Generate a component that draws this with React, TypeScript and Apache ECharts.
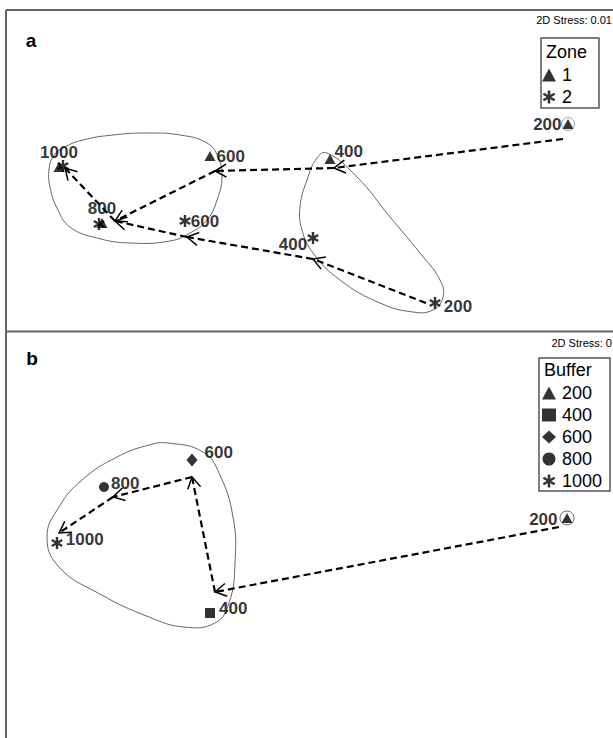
import React, { useEffect, useRef } from "react";
import * as echarts from "echarts";

// ---------- Panel a : Zone ----------
const zoneNames = ["1", "2"];
const zone1Labels = ["200", "400", "600", "800", "1000"];
const zone1X = [2.68, 0.3, -0.9, -1.98, -2.41];
const zone1Y = [0.56, 0.21, 0.24, -0.43, 0.13];
const zone2Labels = ["200", "400", "600", "", ""];
const zone2X = [1.35, 0.13, -1.15, -2.01, -2.37];
const zone2Y = [-1.23, -0.58, -0.41, -0.44, 0.14];

// trajectories (panel a)
const trajA1X = [2.63, 0.34, -0.85, -1.85, -2.35];
const trajA1Y = [0.41, 0.12, 0.09, -0.41, 0.12];
const trajA2X = [1.26, 0.13, -1.13, -1.85];
const trajA2Y = [-1.23, -0.79, -0.57, -0.41];

// cluster outlines (panel a)
const hullA1X = [-2.51, -2.47, -2.37, -2.17, -1.87, -1.53, -1.2, -0.93, -0.82, -0.78, -0.83, -0.93, -1.1, -1.3, -1.7, -2.03, -2.3, -2.43, -2.5];
const hullA1Y = [0.1, 0.23, 0.32, 0.4, 0.45, 0.47, 0.45, 0.37, 0.23, 0.03, -0.2, -0.4, -0.53, -0.61, -0.63, -0.58, -0.47, -0.28, -0.07];
const hullA2X = [0.27, 0.57, 0.9, 1.2, 1.4, 1.43, 1.33, 1.13, 0.8, 0.4, 0.13, 0.02, 0.0, 0.07, 0.17];
const hullA2Y = [0.27, 0.03, -0.37, -0.73, -1.0, -1.17, -1.3, -1.32, -1.23, -1.0, -0.73, -0.5, -0.27, 0.0, 0.22];

// ---------- Panel b : Buffer ----------
const bufferNames = ["200", "400", "600", "800", "1000"];
const bufferX = [2.67, -0.9, -1.08, -1.96, -2.43];
const bufferY = [0.22, -0.73, 0.8, 0.53, -0.03];
const trajBX = [2.59, -0.85, -1.08, -1.87, -2.41];
const trajBY = [0.13, -0.52, 0.63, 0.43, 0.07];
const hullBX = [-1.32, -0.97, -0.81, -0.67, -0.65, -0.71, -0.85, -1.16, -1.51, -2.02, -2.41, -2.53, -2.41, -2.18, -1.83, -1.51];
const hullBY = [0.97, 0.88, 0.67, 0.23, -0.23, -0.63, -0.83, -0.87, -0.77, -0.53, -0.27, 0.03, 0.33, 0.6, 0.83, 0.95];

const stressA = "2D Stress: 0.01";
const stressB = "2D Stress: 0";

const FONT = '"Liberation Sans", Arial, sans-serif';

function asteriskPath(): string {
  const parts: string[] = [];
  for (const deg of [90, 30, 150]) {
    const a = (deg * Math.PI) / 180;
    const c = Math.cos(a);
    const s = Math.sin(a);
    const L = 10;
    const W = 2;
    const pts = [
      [-L, -W],
      [L, -W],
      [L, W],
      [-L, W],
    ].map(([x, y]) => [x * c - y * s, x * s + y * c]);
    parts.push("M" + pts.map((p) => p[0].toFixed(2) + " " + p[1].toFixed(2)).join(" L") + " Z");
  }
  return "path://" + parts.join(" ");
}
const ASTER = asteriskPath();

function segments(xs: number[], ys: number[]) {
  const out: number[][] = [];
  for (let i = 0; i < xs.length - 1; i++) out.push([xs[i], ys[i], xs[i + 1], ys[i + 1]]);
  return out;
}

const arrowRender = (params: any, api: any) => {
  const p1 = api.coord([api.value(0), api.value(1)]);
  const p2 = api.coord([api.value(2), api.value(3)]);
  const ang = Math.atan2(p1[1] - p2[1], p1[0] - p2[0]);
  const L = 13;
  const h = Math.PI / 6;
  const a1 = [p2[0] + L * Math.cos(ang + h), p2[1] + L * Math.sin(ang + h)];
  const a2 = [p2[0] + L * Math.cos(ang - h), p2[1] + L * Math.sin(ang - h)];
  return {
    type: "group",
    children: [
      {
        type: "line",
        shape: { x1: p1[0], y1: p1[1], x2: p2[0], y2: p2[1] },
        style: { stroke: "#000", lineWidth: 2.2, lineDash: [7, 4], fill: "none" },
      },
      {
        type: "polyline",
        shape: { points: [a1, p2, a2] },
        style: { stroke: "#000", lineWidth: 1.5, fill: "none" },
      },
    ],
  };
};

function hullRender(hulls: { x: number[]; y: number[] }[]) {
  return (params: any, api: any) => {
    const h = hulls[params.dataIndex];
    const pts = h.x.map((x, i) => api.coord([x, h.y[i]]));
    return {
      type: "polygon",
      shape: { points: pts, smooth: 0.45 },
      style: { stroke: "#666", lineWidth: 1, fill: "none" },
    };
  };
}

const labelBase = {
  show: true,
  fontFamily: FONT,
  fontWeight: "bold" as const,
  fontSize: 17,
  color: "#000",
  textBorderWidth: 0,
};

// label placement (style only)
const zone1LabelPos: [string, number[]][] = [
  ["left", [4, 0]],
  ["right", [-6, -8]],
  ["right", [-4, 0]],
  ["top", [0, 4]],
  ["top", [0, 4]],
];
const zone2LabelPos: [string, number[]][] = [
  ["right", [-2, 3]],
  ["left", [5, 6]],
  ["right", [-5, 0]],
  ["right", [0, 0]],
  ["right", [0, 0]],
];
const bufferLabelPos: [string, number[]][] = [
  ["left", [1, 1]],
  ["right", [-1, -5]],
  ["right", [2, -8]],
  ["right", [-3, -4]],
  ["right", [-2, -4]],
];
const bufferSymbols = ["triangle", "rect", "diamond", "circle", ASTER];
const bufferSizes: any[] = [[11, 10], 10, [11, 13], 10, 12];

function pointData(xs: number[], ys: number[], labels: string[], pos: [string, number[]][]) {
  return xs.map((x, i) => ({
    value: [x, ys[i]],
    label: labels[i]
      ? { ...labelBase, formatter: labels[i], position: pos[i][0], offset: pos[i][1] }
      : { show: false },
  }));
}

function buildOption(): any {
  const series: any[] = [
    {
      type: "custom",
      name: "hullA",
      xAxisIndex: 0,
      yAxisIndex: 0,
      silent: true,
      renderItem: hullRender([
        { x: hullA1X, y: hullA1Y },
        { x: hullA2X, y: hullA2Y },
      ]),
      encode: { x: 0, y: 1 },
      data: [
        [hullA1X[0], hullA1Y[0]],
        [hullA2X[0], hullA2Y[0]],
      ],
      z: 1,
    },
    {
      type: "custom",
      name: "trajA",
      xAxisIndex: 0,
      yAxisIndex: 0,
      silent: true,
      renderItem: arrowRender,
      dimensions: ["x1", "y1", "x2", "y2"],
      encode: { x: [0, 2], y: [1, 3] },
      data: [...segments(trajA1X, trajA1Y), ...segments(trajA2X, trajA2Y)],
      z: 2,
    },
    {
      type: "scatter",
      name: "startA",
      xAxisIndex: 0,
      yAxisIndex: 0,
      symbol: "circle",
      symbolSize: 13,
      itemStyle: { color: "rgba(0,0,0,0)", borderColor: "#888", borderWidth: 1 },
      data: [[zone1X[0], zone1Y[0]]],
      z: 3,
    },
    {
      type: "scatter",
      name: zoneNames[0],
      xAxisIndex: 0,
      yAxisIndex: 0,
      symbol: "triangle",
      symbolSize: [11, 10],
      itemStyle: { color: "#000" },
      data: pointData(zone1X, zone1Y, zone1Labels, zone1LabelPos),
      z: 4,
    },
    {
      type: "scatter",
      name: zoneNames[1],
      xAxisIndex: 0,
      yAxisIndex: 0,
      symbol: ASTER,
      symbolKeepAspect: true,
      symbolSize: 12,
      itemStyle: { color: "#000" },
      data: pointData(zone2X, zone2Y, zone2Labels, zone2LabelPos),
      z: 4,
    },
    {
      type: "custom",
      name: "hullB",
      xAxisIndex: 1,
      yAxisIndex: 1,
      silent: true,
      renderItem: hullRender([{ x: hullBX, y: hullBY }]),
      encode: { x: 0, y: 1 },
      data: [[hullBX[0], hullBY[0]]],
      z: 1,
    },
    {
      type: "custom",
      name: "trajB",
      xAxisIndex: 1,
      yAxisIndex: 1,
      silent: true,
      renderItem: arrowRender,
      dimensions: ["x1", "y1", "x2", "y2"],
      encode: { x: [0, 2], y: [1, 3] },
      data: segments(trajBX, trajBY),
      z: 2,
    },
    {
      type: "scatter",
      name: "startB",
      xAxisIndex: 1,
      yAxisIndex: 1,
      symbol: "circle",
      symbolSize: 14,
      itemStyle: { color: "rgba(0,0,0,0)", borderColor: "#444", borderWidth: 1 },
      data: [[bufferX[0], bufferY[0]]],
      z: 3,
    },
  ];
  bufferNames.forEach((name, i) => {
    series.push({
      type: "scatter",
      name,
      xAxisIndex: 1,
      yAxisIndex: 1,
      symbol: bufferSymbols[i],
      symbolKeepAspect: bufferSymbols[i] === ASTER,
      symbolSize: bufferSizes[i],
      itemStyle: { color: "#000" },
      data: pointData([bufferX[i]], [bufferY[i]], [name], [bufferLabelPos[i]]),
      z: 4,
    });
  });

  const legendText = { fontFamily: FONT, fontSize: 18, color: "#000", lineHeight: 22, padding: [0, 0, 0, 1] };

  return {
    animation: false,
    backgroundColor: "#fff",
    grid: [
      { left: 0, top: 0, width: 613, height: 332 },
      { left: 0, top: 332, width: 613, height: 406 },
    ],
    xAxis: [
      { type: "value", gridIndex: 0, min: -3, max: 3.13, show: false },
      { type: "value", gridIndex: 1, min: -3, max: 3.13, show: false },
    ],
    yAxis: [
      { type: "value", gridIndex: 0, min: -1.52, max: 1.8, show: false },
      { type: "value", gridIndex: 1, min: -1.98, max: 2.08, show: false },
    ],
    legend: [
      {
        data: zoneNames,
        orient: "vertical",
        left: 542,
        top: 64,
        itemWidth: 14,
        itemHeight: 13,
        itemGap: 0,
        padding: 0,
        selectedMode: false,
        textStyle: legendText,
      },
      {
        data: bufferNames,
        orient: "vertical",
        left: 542,
        top: 382,
        itemWidth: 14,
        itemHeight: 13,
        itemGap: 0,
        padding: 0,
        selectedMode: false,
        textStyle: legendText,
      },
    ],
    graphic: [
      { type: "line", shape: { x1: 6, y1: 10, x2: 613, y2: 10 }, style: { stroke: "#666", lineWidth: 2 } },
      { type: "line", shape: { x1: 6, y1: 10, x2: 6, y2: 738 }, style: { stroke: "#666", lineWidth: 2 } },
      { type: "line", shape: { x1: 6, y1: 331.5, x2: 613, y2: 331.5 }, style: { stroke: "#666", lineWidth: 2 } },
      {
        type: "text",
        x: 31,
        y: 40,
        style: { text: "a", font: `bold 19px ${FONT}`, fill: "#000", align: "center", verticalAlign: "middle" },
      },
      {
        type: "text",
        x: 32,
        y: 358,
        style: { text: "b", font: `bold 19px ${FONT}`, fill: "#000", align: "center", verticalAlign: "middle" },
      },
      {
        type: "text",
        x: 612,
        y: 20,
        style: { text: stressA, font: `11px ${FONT}`, fill: "#000", align: "right", verticalAlign: "middle" },
      },
      {
        type: "text",
        x: 612,
        y: 343,
        style: { text: stressB, font: `11px ${FONT}`, fill: "#000", align: "right", verticalAlign: "middle" },
      },
      {
        type: "rect",
        shape: { x: 541, y: 38, width: 58, height: 70 },
        style: { stroke: "#555", lineWidth: 1.5, fill: "none" },
      },
      {
        type: "text",
        x: 546,
        y: 52,
        style: { text: "Zone", font: `18px ${FONT}`, fill: "#000", align: "left", verticalAlign: "middle" },
      },
      {
        type: "rect",
        shape: { x: 539, y: 358, width: 71, height: 133 },
        style: { stroke: "#555", lineWidth: 1.5, fill: "none" },
      },
      {
        type: "text",
        x: 544,
        y: 370,
        style: { text: "Buffer", font: `18px ${FONT}`, fill: "#000", align: "left", verticalAlign: "middle" },
      },
    ],
    series,
  };
}

export default function App() {
  const ref = useRef<HTMLDivElement>(null);
  useEffect(() => {
    if (!ref.current) return;
    const chart = echarts.init(ref.current, null, { renderer: "svg" });
    chart.setOption(buildOption());
    return () => {
      chart.dispose();
    };
  }, []);
  return (
    <div
      ref={ref}
      style={{ position: "absolute", left: 0, top: 0, width: 613, height: 738, background: "#fff" }}
    />
  );
}
